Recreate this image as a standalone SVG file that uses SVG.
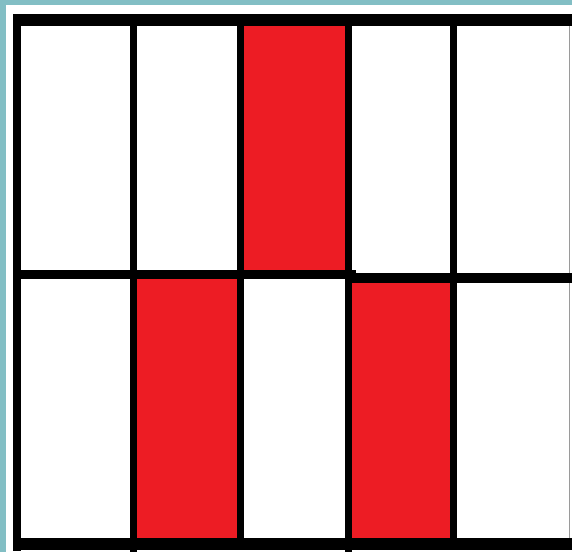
<svg xmlns="http://www.w3.org/2000/svg" width="572" height="552" viewBox="0 0 572 552">
<style>
.red{fill:#ED1C24}
.blk{fill:#000}
.teal{fill:#82BEC4}
</style>
<rect x="0" y="0" width="572" height="552" fill="#fff"/>
<rect class="teal" x="0" y="0" width="572" height="5"/>
<rect class="teal" x="0" y="0" width="6" height="552"/>
<g id="cells">
<rect class="red" x="244" y="26" width="103" height="245"/>
<rect class="red" x="137" y="279" width="100" height="259"/>
<rect class="red" x="351" y="282" width="99" height="256"/>
</g>
<line x1="569.5" y1="26" x2="569.5" y2="538" stroke="#9a9a9a" stroke-width="1"/>
<g id="lines">
<rect class="blk" x="13" y="14" width="559" height="12"/>
<rect class="blk" x="13" y="14" width="8" height="537"/>
<rect class="blk" x="13" y="538" width="559" height="12"/>
<rect class="blk" x="13" y="270" width="343" height="9"/>
<rect class="blk" x="352" y="273" width="220" height="10"/>
<rect class="blk" x="130" y="20" width="7" height="532"/>
<rect class="blk" x="237" y="20" width="7" height="525"/>
<rect class="blk" x="345" y="20" width="7" height="532"/>
<rect class="blk" x="450" y="20" width="7" height="525"/>
</g>
</svg>
